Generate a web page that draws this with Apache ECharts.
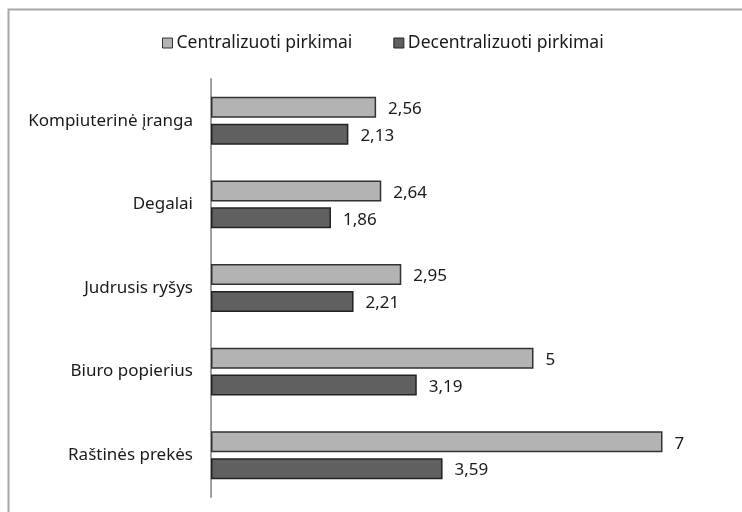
<!DOCTYPE html>
<html>
<head>
<meta charset="utf-8">
<script src="https://cdn.jsdelivr.net/npm/echarts@6/dist/echarts.min.js"></script>
<style>
  html, body { margin: 0; padding: 0; background: #fff; }
  #chart { width: 742px; height: 512px; }
</style>
</head>
<body>
<div id="chart"></div>
<script>
// data, top to bottom as in the picture
const categories = ["Kompiuterinė įranga", "Degalai", "Judrusis ryšys", "Biuro popierius", "Raštinės prekės"];
const centralizuoti = [2.56, 2.64, 2.95, 5, 7];
const decentralizuoti = [2.13, 1.86, 2.21, 3.19, 3.59];
const seriesNames = ["Centralizuoti pirkimai", "Decentralizuoti pirkimai"];

const font = "Noto Sans";
const fs = 17;

function fmt(p) {
  return String(p.value).replace(".", ",");
}

var chart = echarts.init(document.getElementById("chart"));

chart.setOption({
  animation: false,
  textStyle: { fontFamily: font },
  graphic: [
    {
      type: "rect",
      shape: { x: 8.5, y: 9.5, width: 760, height: 520 },
      style: { fill: "none", stroke: "#a6a6a6", lineWidth: 2 },
      silent: true,
    },
  ],
  legend: {
    top: 29,
    left: 157,
    icon: "rect",
    itemWidth: 10,
    itemHeight: 10,
    itemGap: 41,
    textStyle: { fontFamily: font, fontSize: 17.5, color: "#1a1a1a", padding: [0, 0, 0, -1] },
    data: [
      { name: seriesNames[0], itemStyle: { borderColor: "#333", borderWidth: 1 } },
      { name: seriesNames[1], itemStyle: { borderColor: "#222", borderWidth: 1 } },
    ],
  },
  grid: { left: 211, top: 79, width: 516, bottom: 15, containLabel: false },
  xAxis: {
    type: "value",
    min: 0,
    max: 8,
    show: false,
  },
  yAxis: {
    type: "category",
    inverse: true,
    data: categories,
    axisLine: { show: true, lineStyle: { color: "#a0a0a0", width: 2 } },
    axisTick: { show: false },
    axisLabel: { fontFamily: font, fontSize: fs, color: "#1a1a1a", margin: 18 },
  },
  series: [
    {
      name: seriesNames[0],
      type: "bar",
      data: centralizuoti,
      barWidth: 21,
      barGap: "28%",
      itemStyle: { color: "#b3b3b3", borderColor: "#333", borderWidth: 1.5 },
      label: { show: true, position: "right", distance: 12, offset: [0, 2], formatter: fmt, fontFamily: font, fontSize: fs, color: "#1a1a1a" },
    },
    {
      name: seriesNames[1],
      type: "bar",
      data: decentralizuoti,
      barWidth: 21,
      barGap: "28%",
      itemStyle: { color: "#606060", borderColor: "#222", borderWidth: 1.5 },
      label: { show: true, position: "right", distance: 12, offset: [0, 2], formatter: fmt, fontFamily: font, fontSize: fs, color: "#1a1a1a" },
    },
  ],
});
</script>
</body>
</html>
